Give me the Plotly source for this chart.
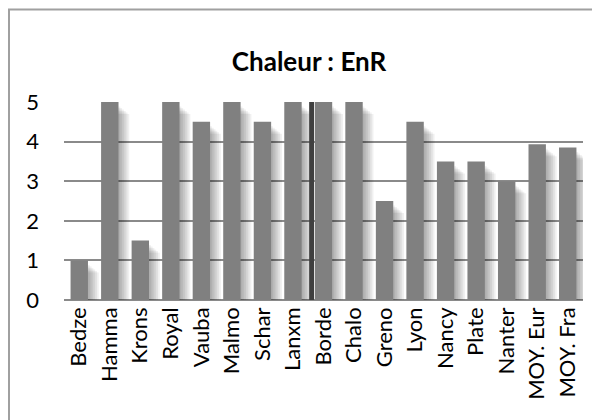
import plotly.graph_objects as go

categories = ["Bedze", "Hamma", "Krons", "Royal", "Vauba", "Malmo", "Schar", "Lanxm",
              "Borde", "Chalo", "Greno", "Lyon", "Nancy", "Plate", "Nanter",
              "MOY. Eur", "MOY. Fra"]
values = [1, 5, 1.5, 5, 4.5, 5, 4.5, 5, 5, 5, 2.5, 4.5, 3.5, 3.5, 3, 3.93, 3.85]
title_text = "Chaleur : EnR"
y_ticks = [0, 1, 2, 3, 4, 5]

W, H = 600, 420
# page body has an 8px margin, so figure pixel = screen pixel - 8
L, R, T, B = 56, 25, 94, 128
pw, ph = W - L - R, H - T - B
cat_px = pw / len(categories)
unit_px = ph / 5.0

BAR_W = 0.57
FONT = "Lato"

fig = go.Figure()

# soft shadows to the right of each bar
xs = list(range(len(categories)))
for k in range(1, 7):
    dx = k * 1.8 / cat_px
    dy = (3 + k * 1.5) / unit_px
    fig.add_trace(go.Bar(
        x=xs, y=[max(v - dy, 0) for v in values],
        width=BAR_W, offset=-BAR_W / 2 + dx,
        marker=dict(color="rgba(0,0,0,0.06)", line=dict(width=0)),
        hoverinfo="skip", showlegend=False))

fig.add_trace(go.Bar(
    x=xs, y=values, width=BAR_W, offset=-BAR_W / 2,
    marker=dict(color="#808080", line=dict(width=0)),
    showlegend=False, name="EnR"))

# dark separator line between Lanxm and Borde
fig.add_shape(type="rect", xref="x", yref="y",
              x0=7.53, x1=7.69, y0=0, y1=5,
              fillcolor="#3f3f3f", line=dict(width=0), layer="above")

# outer chart border (cropped at right/bottom)
fig.add_shape(type="rect", xref="paper", yref="paper",
              x0=(1 - L) / pw, x1=(640 - L) / pw,
              y0=(H - B - 460) / ph, y1=(H - B - 1.5) / ph,
              line=dict(color="#a0a0a0", width=2), fillcolor="rgba(0,0,0,0)")

fig.update_layout(
    width=W, height=H, autosize=False,
    margin=dict(l=L, r=R, t=T, b=B),
    paper_bgcolor="white", plot_bgcolor="white",
    barmode="overlay",
    font=dict(family=FONT, color="black"),
    title=dict(text="<b>" + title_text + "</b>", x=(301 - L) / pw, xref="paper",
               xanchor="center", y=1 - 54 / H, yref="container", yanchor="middle",
               font=dict(family=FONT, size=26, color="black")),
    xaxis=dict(tickmode="array", tickvals=xs, ticktext=categories,
               tickangle=-90, range=[-0.5, len(categories) - 0.5],
               showgrid=False, showline=False, zeroline=False,
               ticks="", tickfont=dict(family=FONT, size=22, color="black"),
               ticklabelstandoff=2),
    yaxis=dict(range=[0, 5], tickvals=y_ticks, showgrid=True,
               gridcolor="#8a8a8a", gridwidth=2, zeroline=True,
               zerolinecolor="#8a8a8a", zerolinewidth=2, showline=False,
               ticks="", tickfont=dict(family=FONT, size=22, color="black"),
               ticklabelstandoff=24),
)

fig.write_html("out.html")
